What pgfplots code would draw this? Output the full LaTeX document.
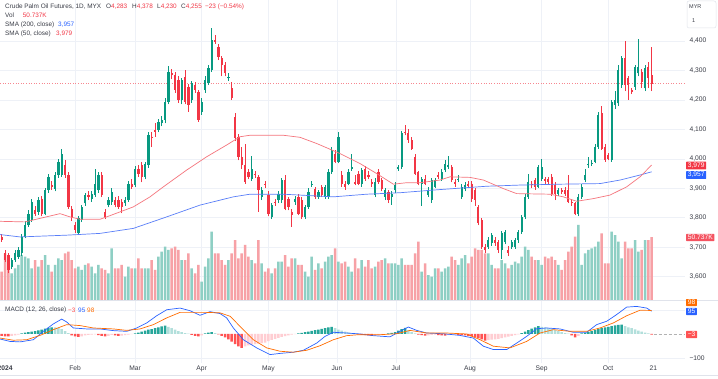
\documentclass[border=0pt]{standalone}
\usepackage{pgfplots}
\pgfplotsset{compat=1.18}
\usepackage{pgfplotstable}
\usepackage{fontspec}
\setmainfont{Liberation Sans}
\definecolor{up}{HTML}{089981}
\definecolor{dn}{HTML}{F23645}
\definecolor{volup}{HTML}{8ECFC4}
\definecolor{voldn}{HTML}{F7A1A6}
\definecolor{smaR}{HTML}{F5757D}
\definecolor{smaB}{HTML}{5A7FF8}
\definecolor{boxB}{HTML}{2962FF}
\definecolor{gridc}{HTML}{EEF1F7}
\definecolor{sepc}{HTML}{E0E3EB}
\definecolor{txt}{HTML}{3A3D47}
\definecolor{macdB}{HTML}{2962FF}
\definecolor{macdO}{HTML}{FF6D00}
\definecolor{hG}{HTML}{26A69A}
\definecolor{hg}{HTML}{B2DFDB}
\definecolor{hR}{HTML}{FF5252}
\definecolor{hr}{HTML}{FFCDD2}
\newcommand{\fs}{\fontsize{6.7}{8}\selectfont}
\newcommand{\hs}{\fontsize{6.4}{8}\selectfont}

\pgfplotstableread{
i O H L C V
0 3735 3745 3718 3724 22.8
1 3679 3690 3650 3656 37.6
2 3673 3680 3611 3622 26.8
3 3633 3662 3625 3656 21.5
4 3656 3690 3650 3679 25.5
5 3667 3700 3660 3690 28.2
6 3679 3745 3670 3735 36.2
7 3735 3790 3730 3775 34.9
8 3775 3825 3770 3814 33.5
9 3792 3865 3785 3854 25.5
10 3826 3840 3805 3814 32.2
11 3820 3870 3810 3860 26.8
12 3865 3875 3805 3814 32.2
13 3814 3900 3808 3894 36.2
14 3894 3950 3885 3939 28.2
15 3911 3925 3895 3905 22.8
16 3899 3955 3890 3945 28.2
17 3945 4000 3935 3990 33.5
18 3945 4035 3940 4018 32.2
19 3979 3995 3935 3945 37.6
20 3945 3955 3830 3837 38.9
21 3831 3840 3790 3798 32.2
22 3775 3785 3750 3758 25.5
23 3747 3805 3741 3798 26.8
24 3792 3845 3785 3837 24.2
25 3849 3885 3840 3877 28.2
26 3877 3890 3860 3871 29.5
27 3865 3890 3855 3882 26.8
28 3877 3965 3870 3916 21.5
29 3894 3955 3885 3945 28.2
30 3945 3955 3870 3877 25.5
31 3820 3830 3795 3803 24.2
32 3843 3870 3835 3860 21.5
33 3854 3900 3845 3888 41.6
34 3860 3870 3835 3843 25.5
35 3860 3875 3830 3837 25.5
36 3854 3865 3815 3837 28.2
37 3849 3870 3840 3860 18.8
38 3860 3925 3855 3916 26.8
39 3916 3930 3898 3905 25.5
40 3911 3975 3905 3967 25.5
41 3967 3980 3940 3950 33.5
42 3979 3990 3920 3939 25.5
43 3939 3990 3930 3984 25.5
44 3979 4090 3970 4080 25.5
45 4075 4090 4040 4069 32.2
46 4097 4120 4075 4092 24.2
47 4097 4135 4090 4126 34.9
48 4120 4145 4110 4131 38.9
49 4131 4205 4120 4194 42.9
50 4194 4315 4185 4296 40.3
51 4290 4305 4270 4284 41.6
52 4284 4295 4225 4233 42.9
53 4267 4280 4190 4199 40.3
54 4199 4275 4185 4267 32.2
55 4279 4300 4185 4194 32.2
56 4245 4255 4160 4182 37.6
57 4199 4265 4190 4256 25.5
58 4250 4260 4225 4233 21.5
59 4228 4235 4125 4131 28.2
60 4160 4205 4150 4194 14.8
61 4233 4280 4225 4267 26.8
62 4256 4320 4250 4307 33.5
63 4301 4443 4295 4403 55.0
64 4403 4420 4390 4397 37.6
65 4380 4390 4335 4346 37.6
66 4341 4350 4280 4318 32.2
67 4318 4330 4280 4290 28.2
68 4273 4290 4265 4279 32.2
69 4239 4260 4200 4205 37.6
70 4143 4155 4060 4069 48.3
71 4075 4085 3995 4007 33.5
72 4007 4040 3965 3979 37.6
73 3979 4050 3915 3922 44.3
74 3956 3965 3930 3939 34.9
75 3933 4010 3925 3967 32.2
76 3950 3960 3935 3945 29.5
77 3939 3945 3820 3894 48.3
78 3871 3905 3860 3894 29.5
79 3916 3925 3900 3911 22.8
80 3877 3890 3805 3814 25.5
81 3803 3850 3795 3843 21.5
82 3854 3865 3840 3849 25.5
83 3860 3890 3850 3882 30.9
84 3860 3935 3850 3928 30.9
85 3928 3945 3825 3831 36.2
86 3865 3870 3825 3837 26.8
87 3820 3830 3770 3809 33.5
88 3854 3875 3845 3865 33.5
89 3871 3880 3808 3814 28.2
90 3860 3870 3795 3803 28.2
91 3803 3845 3795 3837 22.8
92 3837 3900 3830 3888 18.8
93 3911 3925 3905 3916 34.9
94 3899 3905 3865 3871 24.2
95 3871 3895 3865 3888 29.5
96 3905 3910 3870 3877 25.5
97 3871 3910 3865 3905 30.9
98 3871 3965 3865 3956 34.9
99 3956 4041 3950 4030 36.2
100 4018 4030 3985 3990 41.6
101 3990 4090 3985 4075 30.9
102 3945 3960 3905 3916 29.5
103 3916 3925 3895 3905 30.9
104 3916 3965 3910 3956 26.8
105 3967 4018 3960 3973 22.8
106 3922 3945 3910 3916 33.5
107 3950 3960 3910 3916 25.5
108 3916 3970 3905 3962 32.2
109 3967 3975 3925 3933 26.8
110 3945 3960 3930 3939 32.2
111 3922 3930 3905 3916 25.5
112 3877 3935 3870 3922 26.8
113 3956 3965 3915 3922 30.9
114 3928 3935 3890 3899 32.2
115 3871 3900 3860 3894 33.5
116 3888 3895 3850 3860 29.5
117 3871 3890 3845 3882 29.5
118 3894 3920 3885 3911 29.5
119 3967 3980 3960 3973 28.2
120 3973 4095 3965 4086 33.5
121 4092 4115 4080 4086 28.2
122 4086 4100 4055 4063 28.2
123 4063 4075 4030 4035 28.2
124 4007 4015 3945 3950 37.6
125 3956 3960 3910 3916 47.0
126 3916 3940 3840 3933 22.8
127 3933 3945 3910 3916 29.5
128 3877 3905 3870 3894 20.1
129 3860 3935 3850 3928 18.8
130 3905 3935 3900 3928 25.5
131 3945 3955 3930 3939 25.5
132 3933 3965 3925 3956 22.8
133 3962 3995 3955 3984 25.5
134 3973 4010 3965 3979 26.8
135 3973 3980 3920 3928 34.9
136 3922 3930 3905 3916 32.2
137 3928 3945 3920 3933 28.2
138 3871 3915 3865 3905 33.5
139 3899 3920 3890 3911 36.2
140 3914 3925 3900 3908 29.5
141 3916 3925 3855 3865 34.9
142 3894 3900 3840 3860 41.6
143 3837 3845 3775 3781 40.3
144 3792 3800 3695 3701 40.3
145 3701 3710 3680 3690 37.6
146 3701 3735 3695 3724 37.6
147 3713 3750 3705 3741 28.2
148 3724 3735 3705 3713 25.5
149 3718 3725 3680 3690 25.5
150 3690 3755 3660 3747 32.2
151 3718 3760 3710 3752 29.5
152 3690 3705 3670 3679 25.5
153 3701 3725 3695 3718 28.2
154 3701 3730 3695 3724 30.9
155 3724 3760 3715 3752 29.5
156 3752 3810 3745 3803 34.9
157 3803 3880 3795 3871 42.9
158 3871 3950 3865 3922 40.3
159 3916 3925 3900 3911 34.9
160 3928 3935 3895 3905 32.2
161 3905 3980 3900 3973 32.2
162 3933 4001 3925 3973 28.2
163 3931 3940 3915 3925 34.9
164 3933 3940 3915 3922 33.5
165 3939 3950 3875 3882 34.9
166 3911 3920 3860 3882 32.2
167 3882 3900 3875 3894 28.2
168 3894 3900 3880 3888 24.2
169 3894 3905 3875 3882 32.2
170 3894 3945 3850 3854 38.9
171 3854 3865 3840 3849 42.9
172 3849 3855 3808 3814 51.0
173 3814 3880 3805 3871 60.4
174 3871 3915 3865 3905 28.2
175 3928 3965 3920 3945 37.6
176 3979 4005 3970 3984 40.3
177 3981 3995 3975 3987 41.6
178 3990 4050 3985 4041 42.9
179 4041 4160 4035 4148 47.0
180 4154 4180 4030 4035 53.7
181 4041 4050 3990 3996 29.5
182 4013 4020 3995 4001 29.5
183 3996 4200 3990 4194 55.0
184 4182 4230 4170 4199 52.3
185 4188 4320 4180 4301 47.0
186 4250 4350 4240 4341 33.5
187 4341 4400 4230 4250 47.0
188 4273 4280 4200 4250 41.6
189 4233 4240 4220 4228 41.6
190 4245 4320 4235 4313 48.3
191 4290 4405 4280 4313 38.9
192 4296 4305 4240 4262 40.3
193 4239 4320 4230 4307 48.3
194 4313 4330 4240 4273 48.3
195 4283 4378 4230 4255 50.7
}\candles

\pgfplotstableread{
i p
-0.5 3788
7 3786
17.5 3814
20.5 3803
23.5 3795
29.5 3795
31.5 3803
39.5 3837
44.5 3871
48.5 3905
55.5 3962
61.5 4007
67.5 4047
71.5 4075
74.5 4080
84.5 4080
89.5 4073
94.5 4052
101.5 4018
107.5 3984
112.5 3950
117.5 3914
121.5 3919
125.5 3919
131.5 3928
134.5 3939
140.5 3937
144.5 3928
150.5 3899
154.5 3882
164.5 3880
168.5 3871
172.5 3856
177.5 3865
182.5 3877
187.5 3905
191.5 3939
195 3979
}\smaR

\pgfplotstableread{
i p
-0.5 3743
5.5 3735
19.5 3741
29.5 3747
39.5 3764
49.5 3803
59.5 3843
69.5 3871
74.5 3880
84.5 3880
89.5 3877
99.5 3871
109.5 3880
119.5 3885
129.5 3894
135.5 3899
145.5 3907
155.5 3911
167.5 3914
179.5 3916
185.5 3928
191.5 3945
195 3956
}\smaBt

\pgfplotstableread{
i m
-0.5 -21
2.5 -31
5.5 -33
9.5 -24
12.5 11
15.5 42
18 62
19.5 50
21.5 25
25.5 21
29.5 21
33.5 14
37.5 11
40.5 25
43.5 46
46.5 76
49.5 101
53.5 108
56.5 97
59.5 78
62.5 93
65.5 85
67.5 67
69.5 25
72.5 -24
76.5 -58
80.5 -86
83.5 -81
87.5 -76
90.5 -68
94.5 -38
97 -10
99.5 7
103.5 4
107.5 0
111.5 -7
116.5 -12
119.5 11
122 29
124.5 15
127.5 4
132.5 1
137.5 -6
141.5 -17
144.5 -51
147.5 -65
151.5 -65
154.5 -38
157.5 -10
160.5 22
163.5 25
167.5 21
171.5 7
175.5 7
178.5 39
181.5 53
184.5 81
187.5 112
190.5 115
193.5 108
195 95
}\macd

\pgfplotstableread{
i s
-0.5 -17
3.5 -26
7.5 -24
11.5 -6
15.5 18
19.5 39
23.5 35
27.5 25
33.5 21
37.5 15
41.5 21
45.5 39
49.5 67
53.5 90
57.5 90
61.5 90
65.5 88
68.5 74
71.5 32
75.5 -24
79.5 -58
83.5 -72
87.5 -76
91.5 -68
95.5 -49
99.5 -24
103.5 -7
107 -3
113.5 -3
118.5 1
122.5 15
127.5 4
133.5 4
139.5 0
143.5 -24
147.5 -51
152.5 -58
157.5 -31
161.5 4
165.5 18
170.5 11
175.5 11
179.5 25
183.5 46
187.5 76
191.5 99
195 98
}\sig

\pgfplotstableread{
i h c
0 -8 3
1 -10 3
2 -10 3
3 -8 4
4 -6 4
5 -3 4
6 3 1
7 6 1
8 8 1
9 10 1
10 12 1
11 15 1
12 18 1
13 22 1
14 25 1
15 28 1
16 27 2
17 25 2
18 20 2
19 12 2
20 4 2
21 -6 3
22 -10 3
23 -12 3
24 -10 4
25 -6 4
26 -4 4
27 -3 4
28 -2 4
29 -5 3
30 -8 3
31 -10 3
32 -8 4
33 -4 4
34 -6 3
35 -8 3
36 -7 4
37 -5 4
38 -3 4
39 -1 4
40 3 1
41 6 1
42 10 1
43 14 1
44 18 1
45 20 1
46 24 1
47 28 1
48 32 1
49 35 1
50 30 2
51 24 2
52 18 2
53 12 2
54 8 2
55 4 2
56 1 2
57 -4 3
58 -8 3
59 -10 3
60 -6 4
61 2 1
62 6 1
63 8 1
64 4 2
65 -2 3
66 -8 3
67 -14 3
68 -22 3
69 -32 3
70 -42 3
71 -52 3
72 -58 3
73 -52 4
74 -48 4
75 -44 4
76 -42 4
77 -40 4
78 -38 4
79 -36 4
80 -30 4
81 -25 4
82 -20 4
83 -16 4
84 -12 4
85 -9 4
86 -6 4
87 -3 4
88 -1 4
89 2 1
90 5 1
91 8 1
92 10 1
93 13 1
94 16 1
95 18 1
96 21 1
97 24 1
98 28 1
99 30 1
100 24 2
101 18 2
102 14 2
103 10 2
104 7 2
105 4 2
106 2 2
107 -2 3
108 -4 3
109 -5 3
110 -6 3
111 -8 3
112 -7 4
113 -5 4
114 -3 4
115 -1 4
116 2 1
117 5 1
118 8 1
119 14 1
120 20 1
121 25 1
122 15 2
123 8 2
124 3 2
125 -3 3
126 -5 3
127 -7 3
128 -6 4
129 -4 4
130 -3 4
131 -5 3
132 -6 3
133 -7 3
134 -5 4
135 -4 4
136 -3 4
137 -4 3
138 -5 3
139 -6 3
140 -8 3
141 -10 3
142 -14 3
143 -18 3
144 -22 3
145 -28 3
146 -26 4
147 -24 4
148 -22 4
149 -20 4
150 -17 4
151 -14 4
152 -11 4
153 -8 4
154 -5 4
155 -2 4
156 4 1
157 10 1
158 16 1
159 22 1
160 28 1
161 33 1
162 30 2
163 27 2
164 24 2
165 20 2
166 16 2
167 12 2
168 8 2
169 4 2
170 1 2
171 -6 3
172 -14 3
173 -8 4
174 2 1
175 5 1
176 9 1
177 12 1
178 16 1
179 20 1
180 24 1
181 27 1
182 30 1
183 33 1
184 36 1
185 38 1
186 39 1
187 33 2
188 28 2
189 24 2
190 19 2
191 14 2
192 10 2
193 6 2
194 2 2
195 -3 3
}\hist

\pgfplotsset{
  panel/.style={anchor=south west, width=685pt, scale only axis,
    xmin=-0.51, xmax=205, axis line style={draw=none}, clip=true},
  upf/.style={x filter/.expression={\thisrow{C}>=\thisrow{O} ? x : nan}},
  dnf/.style={x filter/.expression={\thisrow{C}<\thisrow{O} ? x : nan}},
  hc/.style={x filter/.expression={\thisrow{c}==#1 ? x : nan}},
}

\begin{document}
\begin{tikzpicture}
\fill[white] (0pt,0pt) rectangle (718pt,379pt);
\path[use as bounding box] (0pt,0pt) rectangle (718pt,379pt);

% grid + price scale
\begin{axis}[panel, at={(0pt,79pt)}, height=300pt, ymin=3521, ymax=4539,
  ytick={3600,3700,...,4400}, yticklabel pos=right,
  xtick={22,40,60,80,100.6,118.3,140.5,162,181.9}, xticklabels={},
  major tick length=0pt,
  grid=major, grid style={gridc, line width=0.6pt},
  yticklabel style={font=\fs, text=txt, /pgf/number format/1000 sep={,}, /pgf/number format/assume math mode=true, xshift=1pt}]
\addplot[dn!60, dash pattern=on 1pt off 1.6pt, line width=0.5pt] coordinates {(-0.51,4255) (205,4255)};
\end{axis}

% volume
\begin{axis}[panel, at={(0pt,79pt)}, height=300pt, ymin=0, ymax=241.6, ticks=none]
\addplot[ybar, bar width=2.5pt, bar shift=0pt, fill=volup, draw=none, upf] table[x=i, y=V] {\candles};
\addplot[ybar, bar width=2.5pt, bar shift=0pt, fill=voldn, draw=none, dnf] table[x=i, y=V] {\candles};
\end{axis}

% candles + SMA
\begin{axis}[panel, at={(0pt,79pt)}, height=300pt, ymin=3521, ymax=4539, ticks=none]
\addplot[up, line width=0.7pt, quiver={u=0, v=\thisrow{H}-\thisrow{L}}, upf] table[x=i, y=L] {\candles};
\addplot[dn, line width=0.7pt, quiver={u=0, v=\thisrow{H}-\thisrow{L}}, dnf] table[x=i, y=L] {\candles};
\addplot[up, line width=2.3pt, quiver={u=0, v=\thisrow{C}-\thisrow{O}}, upf] table[x=i, y=O] {\candles};
\addplot[dn, line width=2.3pt, quiver={u=0, v=\thisrow{C}-\thisrow{O}}, dnf] table[x=i, y=O] {\candles};
\addplot[smaB, line width=0.7pt] table[x=i, y=p] {\smaBt};
\addplot[smaR, line width=0.7pt] table[x=i, y=p] {\smaR};
\end{axis}

% MACD
\begin{axis}[panel, at={(0pt,16pt)}, height=62pt, ymin=-121, ymax=137.5,
  ytick={-100,100}, yticklabels={−100,{}}, yticklabel pos=right,
  xtick={22,40,60,80,100.6,118.3,140.5,162,181.9},
  xticklabels={Feb,Mar,Apr,May,Jun,Jul,Aug,Sep,Oct},
  extra x ticks={1.0,195.5}, extra x tick labels={\textbf{2024},21}, extra x tick style={grid=none},
  major tick length=0pt,
  grid=major, grid style={gridc, line width=0.6pt},
  ticklabel style={font=\fs, text=txt},
  xticklabel style={yshift=1pt}, yticklabel style={xshift=1pt}]
\addplot[ybar, bar width=2.5pt, bar shift=0pt, fill=hG, draw=none, hc=1] table[x=i, y=h] {\hist};
\addplot[ybar, bar width=2.5pt, bar shift=0pt, fill=hg, draw=none, hc=2] table[x=i, y=h] {\hist};
\addplot[ybar, bar width=2.5pt, bar shift=0pt, fill=hR, draw=none, hc=3] table[x=i, y=h] {\hist};
\addplot[ybar, bar width=2.5pt, bar shift=0pt, fill=hr, draw=none, hc=4] table[x=i, y=h] {\hist};
\addplot[macdB, line width=0.7pt] table[x=i, y=m] {\macd};
\addplot[macdO, line width=0.7pt] table[x=i, y=s] {\sig};
\addplot[gray!60, densely dashed, line width=0.4pt] coordinates {(195.6,-3) (205,-3)};
\end{axis}

% separators
\draw[sepc, line width=0.6pt] (0pt,79pt) -- (718pt,79pt);
\draw[sepc, line width=0.6pt] (0pt,4pt) -- (718pt,4pt);

% header
\begin{scope}[every node/.style={anchor=west, inner sep=0pt, font=\hs, text=txt}]
\node at (5pt,372.3pt) {Crude Palm Oil Futures, 1D, MYX};
\node at (106pt,372.3pt) {O\textcolor{dn}{4,283}};
\node at (132pt,372.3pt) {H\textcolor{dn}{4,378}};
\node at (157pt,372.3pt) {L\textcolor{dn}{4,230}};
\node at (181pt,372.3pt) {C\textcolor{dn}{4,255}};
\node[text=dn] at (205pt,372.3pt) {−23 (−0.54\%)};
\node at (5pt,364pt) {Vol};
\node[text=dn] at (22.7pt,364pt) {50.737K};
\node at (5pt,354pt) {SMA (200, close)};
\node[text=boxB] at (58pt,354pt) {3,957};
\node at (5pt,345pt) {SMA (50, close)};
\node[text=dn] at (56pt,345pt) {3,979};
\node at (5pt,69pt) {MACD (12, 26, close)};
\node[text=hR] at (68pt,69pt) {−3};
\node[text=macdB] at (78pt,69pt) {95};
\node[text=macdO] at (87pt,69pt) {98};
\end{scope}

% right-side labels
\begin{scope}[every node/.style={anchor=west, inner xsep=1.6pt, inner ysep=1.2pt, font=\fs, text=white, rounded corners=0.6pt}]
\node[fill=dn] at (686pt,213.5pt) {3,979};
\node[fill=boxB] at (686pt,204pt) {3,957};
\node[fill=dn!85] at (686pt,141.5pt) {50.737K};
\node[fill=boxB] at (686pt,67.5pt) {95};
\node[fill=hR] at (686pt,44.5pt) {−3};
\begin{scope}
\clip (680pt,0pt) rectangle (718pt,79pt);
\node[fill=macdO] at (686pt,76.5pt) {98};
\end{scope}
\end{scope}

% currency box
\draw[sepc, rounded corners=2pt, line width=0.5pt] (687pt,378pt) rectangle (716pt,351pt);
\node[anchor=west, inner sep=0pt, font=\fontsize{5.5}{6}\selectfont, text=txt] at (689pt,372pt) {MYR};
\node[anchor=west, inner sep=0pt, font=\fontsize{5.5}{6}\selectfont, text=txt] at (692pt,358pt) {1};
\end{tikzpicture}
\end{document}
